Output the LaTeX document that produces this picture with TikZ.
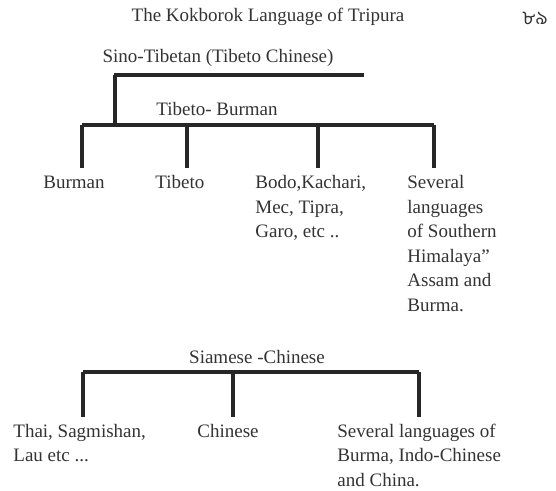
\documentclass[tikz,border=0pt]{standalone}
\usepackage{fontspec}
\setmainfont{Liberation Serif}
\newfontfamily\bengalifont[Script=Bengali]{Hind Siliguri}
\usetikzlibrary{positioning}
\tikzset{
branch/.style={line width=1.6pt, draw=black!85}, % the tree lines
lang/.style={inner sep=0pt, align=left, text=black!80, font=\fontsize{9.5}{12.25}\selectfont}, % every language name
leaf/.style={lang, anchor=base west}, % names hanging under a branch, placed by their last baseline
}

\begin{document}
\begin{tikzpicture}[x=0.5pt, y=-0.5pt]
    \useasboundingbox (0,0) rectangle (556,491);
    % running head of the page
    \node[lang] (title) at (268,17) {The Kokborok Language of Tripura};
    \node[lang, font=\bengalifont\fontsize{9.5}{12}\selectfont] (page) at (535,18) {৮৯};

    % Sino-Tibetan tree
    \node[lang] (sino) at (218,58) {Sino-Tibetan (Tibeto Chinese)};
    \coordinate (sinoL) at (114,75);
    \coordinate (sinoR) at (364,75);
    \node[lang] (tibbur) at (217,109) {Tibeto- Burman};
    \coordinate (tbL) at (82,125);
    \coordinate (tbR) at (434,125);
    \coordinate (tbUp) at (115,125);
    \node[leaf] (burman) at (43,189) {Burman};
    \node[leaf] (tibeto) at (155,189) {Tibeto};
    \node[leaf] (bodo) at (255,238) {Bodo,Kachari,\\Mec, Tipra,\\Garo, etc ..};
    \node[leaf] (himal) at (407,311.5) {Several\\languages\\of Southern\\Himalaya''\\Assam and\\Burma.};
    \coordinate (burmanT) at (82,168);
    \coordinate (tibetoT) at (187,168);
    \coordinate (bodoT) at (318,168);
    \coordinate (himalT) at (434,168);
    \draw[branch] (sinoL) -- (sinoR);
    \draw[branch] (tbUp |- sinoL) -- (tbUp);
    \draw[branch] (tbL) -- (tbR);
    \draw[branch] (burmanT |- tbL) -- (burmanT);
    \draw[branch] (tibetoT |- tbL) -- (tibetoT);
    \draw[branch] (bodoT |- tbL) -- (bodoT);
    \draw[branch] (himalT |- tbL) -- (himalT);

    % Siamese-Chinese tree
    \node[lang] (siam) at (257,357) {Siamese -Chinese};
    \coordinate (scL) at (83,372);
    \coordinate (scR) at (419,372);
    \node[leaf] (thai) at (13,461.5) {Thai, Sagmishan,\\Lau etc ...};
    \node[leaf] (chinese) at (197,437) {Chinese};
    \node[leaf] (burma) at (337,486) {Several languages of\\Burma, Indo-Chinese\\and China.};
    \coordinate (thaiT) at (83,417);
    \coordinate (chineseT) at (233,417);
    \coordinate (burmaT) at (419,417);
    \draw[branch] (scL) -- (scR);
    \draw[branch] (thaiT |- scL) -- (thaiT);
    \draw[branch] (chineseT |- scL) -- (chineseT);
    \draw[branch] (burmaT |- scL) -- (burmaT);
\end{tikzpicture}
\end{document}
